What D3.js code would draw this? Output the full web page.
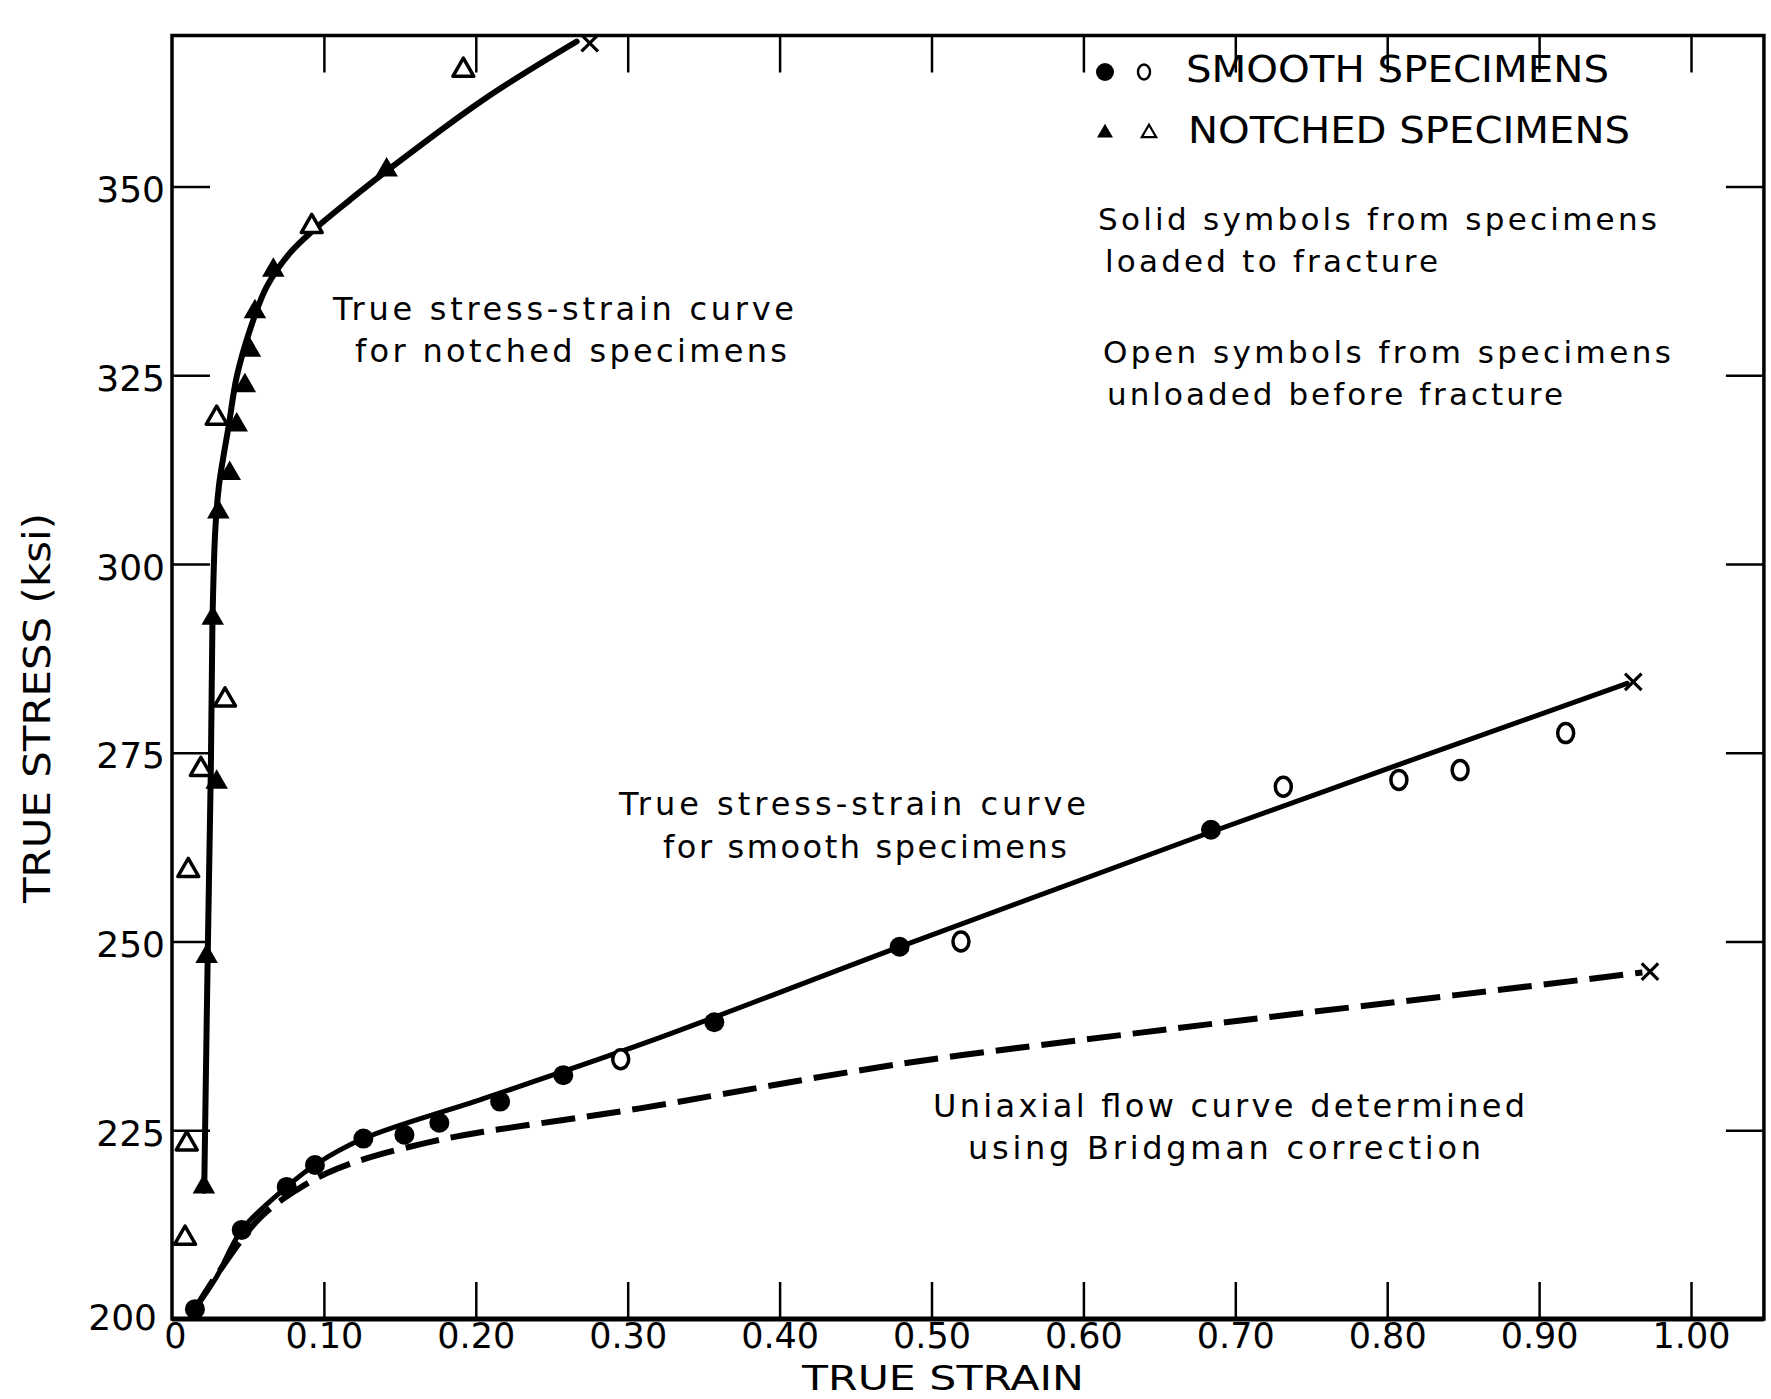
<!DOCTYPE html>
<html>
<head>
<meta charset="utf-8">
<script src="https://cdn.jsdelivr.net/npm/d3@7"></script>
<style>
  html, body { margin: 0; padding: 0; background: #fff; }
  svg { display: block; }
  text { font-family: "DejaVu Sans", "Noto Sans", sans-serif; fill: #000; }
</style>
</head>
<body>
<svg id="chart" width="1771" height="1399"></svg>
<script>
// ---------------- DATA ----------------
const xTickValues = [0, 0.1, 0.2, 0.3, 0.4, 0.5, 0.6, 0.7, 0.8, 0.9, 1.0];
const xTickLabels = ["0", "0.10", "0.20", "0.30", "0.40", "0.50", "0.60", "0.70", "0.80", "0.90", "1.00"];
const yTickValues = [200, 225, 250, 275, 300, 325, 350];
const yTickLabels = ["200", "225", "250", "275", "300", "325", "350"];

// notched specimens, solid triangles (loaded to fracture): [strain, stress ksi]
const notchedSolid = [
  [0.021, 217.5], [0.0228, 248.0], [0.0294, 271.1], [0.0268, 292.8], [0.0305, 306.9],
  [0.038, 312.0], [0.0426, 318.4], [0.048, 323.6], [0.0513, 328.3], [0.0546, 333.4],
  [0.0667, 338.9], [0.1413, 352.2]
];
// notched specimens, open triangles (unloaded before fracture)
const notchedOpen = [
  [0.0086, 210.7], [0.0097, 223.2], [0.0107, 259.4], [0.019, 272.8], [0.0349, 282.0],
  [0.0294, 319.3], [0.092, 344.7], [0.1918, 365.4]
];
// smooth specimens, solid circles
const smoothSolid = [
  [0.0151, 201.3], [0.0459, 211.8], [0.0755, 217.5], [0.0941, 220.4], [0.126, 223.9],
  [0.153, 224.4], [0.176, 226.0], [0.216, 228.8], [0.2576, 232.3], [0.357, 239.3],
  [0.479, 249.3], [0.684, 264.8]
];
// smooth specimens, open circles
const smoothOpen = [
  [0.2954, 234.4], [0.5194, 250.0], [0.7316, 270.5], [0.8077, 271.4], [0.848, 272.7], [0.9175, 277.6]
];
// true stress-strain curve, notched specimens
const notchedCurve = [
  [0.0212, 217.0], [0.0235, 248.0], [0.0255, 272.0], [0.0266, 292.0], [0.0285, 304.5],
  [0.031, 310.5], [0.0345, 315.0], [0.0371, 318.0], [0.0426, 324.8], [0.0513, 331.0],
  [0.0623, 336.7], [0.0777, 341.2], [0.093, 344.2], [0.117, 348.2], [0.139, 351.7],
  [0.205, 361.5], [0.2664, 369.2]
];
// true stress-strain curve, smooth specimens
const smoothCurve = [
  [0.0151, 201.3], [0.0294, 205.6], [0.0459, 211.8], [0.0755, 217.5], [0.0941, 220.4],
  [0.126, 223.9], [0.205, 229.2], [0.3147, 236.8], [0.479, 249.3], [0.684, 264.5], [0.958, 284.2]
];
// uniaxial flow curve (Bridgman correction), dashed
const bridgmanCurve = [
  [0.0151, 201.3], [0.03, 206.0], [0.0579, 213.4], [0.0821, 217.1], [0.1029, 219.4],
  [0.127, 221.2], [0.171, 223.5], [0.205, 224.8], [0.2554, 226.3], [0.308, 227.9],
  [0.48, 233.8], [0.6365, 237.9], [0.735, 240.3], [0.845, 242.9], [0.968, 245.9]
];
// fracture points (x marks)
const fracturePoints = [[0.275, 369.0], [0.962, 284.4], [0.973, 246.0]];

const legendLabels = ["SMOOTH  SPECIMENS", "NOTCHED  SPECIMENS"];
const noteLines = ["Solid symbols from specimens", "loaded to fracture",
                   "Open symbols from specimens", "unloaded before fracture"];
const curveLabels = ["True stress-strain curve", "for notched specimens",
                     "True stress-strain curve", "for smooth specimens",
                     "Uniaxial flow curve determined", "using Bridgman correction"];
const xTitle = "TRUE STRAIN";
const yTitle = "TRUE STRESS (ksi)";

// ---------------- LAYOUT ----------------
const svg = d3.select("#chart");
const x = d3.scaleLinear().domain([0, 1]).range([172, 1691]);
const y = d3.scaleLinear().domain([200, 350]).range([1319, 186.5]);
const xMax = 1.048, yMax = 370;
const X0 = x(0), X1 = x(xMax), Y0 = y(200), Y1 = y(yMax);

const g = svg.append("g");

// frame
g.append("rect").attr("x", X0).attr("y", Y1).attr("width", X1 - X0).attr("height", Y0 - Y1)
  .attr("fill", "none").attr("stroke", "#000").attr("stroke-width", 3.5);
g.append("line").attr("x1", X0).attr("x2", X1).attr("y1", Y0).attr("y2", Y0)
  .attr("stroke", "#000").attr("stroke-width", 5);

// axes
const fmtX = d => xTickLabels[xTickValues.indexOf(d)];
const fmtY = d => yTickLabels[yTickValues.indexOf(d)];

const axB = g.append("g").attr("transform", `translate(0,${Y0})`)
  .call(d3.axisBottom(x).tickValues(xTickValues).tickFormat(fmtX).tickSizeInner(-37).tickSizeOuter(0).tickPadding(4));
const axL = g.append("g").attr("transform", `translate(${X0},0)`)
  .call(d3.axisLeft(y).tickValues(yTickValues).tickFormat(fmtY).tickSizeInner(-38).tickSizeOuter(0).tickPadding(7));
const axT = g.append("g").attr("transform", `translate(0,${Y1})`)
  .call(d3.axisTop(x).tickValues(xTickValues.slice(1)).tickFormat("").tickSizeInner(-37).tickSizeOuter(0));
const axR = g.append("g").attr("transform", `translate(${X1},0)`)
  .call(d3.axisRight(y).tickValues(yTickValues.slice(1)).tickFormat("").tickSizeInner(-38).tickSizeOuter(0));

[axB, axL, axT, axR].forEach(a => {
  a.select(".domain").remove();
  a.selectAll(".tick line").attr("stroke", "#000").attr("stroke-width", 2.5);
  a.selectAll(".tick text").attr("font-size", 36).attr("font-family", "DejaVu Sans").attr("fill", "#000");
});
axB.selectAll(".tick text").attr("font-size", 35);
axB.selectAll(".tick").filter(d => d === 0).select("line").remove();
axB.selectAll(".tick").filter(d => d === 0).select("text").attr("x", 3);
axL.selectAll(".tick").filter(d => d === 200).select("line").remove();
axL.selectAll(".tick text").attr("dy", "0.42em");
axL.selectAll(".tick").filter(d => d === 200).select("text").attr("dy", "0.3em").attr("x", -15);

// curves
const line = d3.line().x(d => x(d[0])).y(d => y(d[1])).curve(d3.curveCatmullRom.alpha(0.5));
g.append("path").datum(notchedCurve).attr("d", line).attr("fill", "none")
  .attr("stroke", "#000").attr("stroke-width", 6).attr("stroke-linecap", "round");
g.append("path").datum(smoothCurve).attr("d", line).attr("fill", "none")
  .attr("stroke", "#000").attr("stroke-width", 5).attr("stroke-linecap", "round");
g.append("path").datum(bridgmanCurve).attr("d", line).attr("fill", "none")
  .attr("stroke", "#000").attr("stroke-width", 6).attr("stroke-dasharray", "34,12");

// markers
const tri = d3.symbol().type(d3.symbolTriangle);
g.selectAll(".ntS").data(notchedSolid).join("path")
  .attr("transform", d => `translate(${x(d[0])},${y(d[1])})`)
  .attr("d", tri.size(220)()).attr("fill", "#000");
g.selectAll(".ntO").data(notchedOpen).join("path")
  .attr("transform", d => `translate(${x(d[0])},${y(d[1])})`)
  .attr("d", tri.size(190)()).attr("fill", "#fff").attr("stroke", "#000").attr("stroke-width", 3.5)
  .attr("stroke-linejoin", "round");
g.selectAll(".smS").data(smoothSolid).join("circle")
  .attr("cx", d => x(d[0])).attr("cy", d => y(d[1])).attr("r", 10).attr("fill", "#000");
g.selectAll(".smO").data(smoothOpen).join("ellipse")
  .attr("cx", d => x(d[0])).attr("cy", d => y(d[1])).attr("rx", 8).attr("ry", 9.5)
  .attr("fill", "#fff").attr("stroke", "#000").attr("stroke-width", 3.5);
const cross = d3.symbol().type(d3.symbolTimes).size(180);
g.selectAll(".frac").data(fracturePoints).join("path")
  .attr("transform", d => `translate(${x(d[0])},${y(d[1])})`)
  .attr("d", cross()).attr("fill", "none").attr("stroke", "#000").attr("stroke-width", 3.2);

// legend
const leg = g.append("g");
leg.append("circle").attr("cx", 1105).attr("cy", 72).attr("r", 9).attr("fill", "#000");
leg.append("ellipse").attr("cx", 1144).attr("cy", 72).attr("rx", 6).attr("ry", 7.5)
  .attr("fill", "none").attr("stroke", "#000").attr("stroke-width", 2.5);
leg.append("path").attr("transform", "translate(1105,133)").attr("d", tri.size(110)()).attr("fill", "#000");
leg.append("path").attr("transform", "translate(1149,133)").attr("d", tri.size(90)())
  .attr("fill", "none").attr("stroke", "#000").attr("stroke-width", 2.2);

function addText(str, x0, base, len, size, adjust) {
  return g.append("text").attr("x", x0).attr("y", base).attr("font-size", size)
    .attr("textLength", len).attr("lengthAdjust", adjust || "spacing").text(str);
}
addText(legendLabels[0], 1186, 82, 423, 38, "spacingAndGlyphs");
addText(legendLabels[1], 1188, 143, 442, 38, "spacingAndGlyphs");
addText(noteLines[0], 1098, 230, 559, 31);
addText(noteLines[1], 1105, 272, 333, 31);
addText(noteLines[2], 1103, 363, 568, 31);
addText(noteLines[3], 1107, 405, 456, 31);

addText(curveLabels[0], 333, 320, 461, 32);
addText(curveLabels[1], 355, 362, 432, 32);
addText(curveLabels[2], 619, 815, 467, 32);
addText(curveLabels[3], 663, 858, 404, 32);
addText(curveLabels[4], 933, 1117, 592, 32);
addText(curveLabels[5], 968, 1159, 513, 32);

// axis titles
addText(xTitle, 802, 1390, 282, 33, "spacingAndGlyphs");
g.append("text").attr("transform", "translate(50,903) rotate(-90)")
  .attr("x", 0).attr("y", 0).attr("font-size", 37)
  .attr("textLength", 390).attr("lengthAdjust", "spacingAndGlyphs").text(yTitle);
</script>
</body>
</html>
